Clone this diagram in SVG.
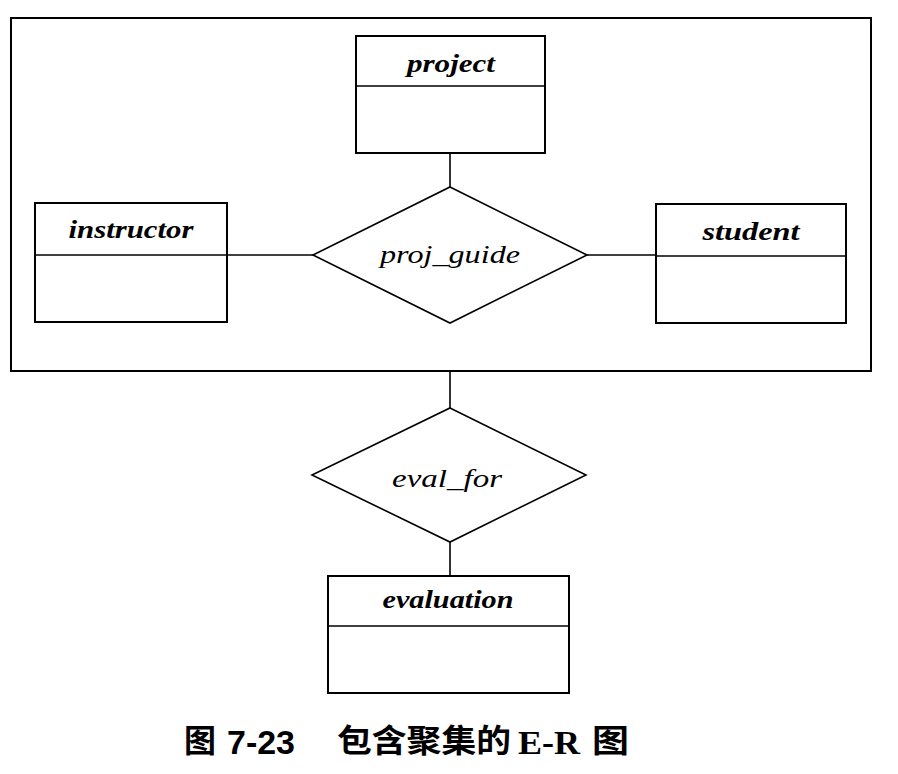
<svg xmlns="http://www.w3.org/2000/svg" width="898" height="774" viewBox="0 0 898 774">
<style>
.box{fill:none;stroke:#000;stroke-width:2}
.ent{fill:#fff;stroke:#000;stroke-width:2}
.rel{fill:#fff;stroke:#000;stroke-width:1.6}
.ln{stroke:#000;stroke-width:1.6;fill:none}
.et{font-family:"Liberation Serif",serif;font-style:italic;font-weight:bold;font-size:25px;text-anchor:middle;fill:#000}
.rt{font-family:"Liberation Serif",serif;font-style:italic;font-size:25px;text-anchor:middle;fill:#000}
.cap{font-family:"Liberation Serif","Noto Sans CJK SC",serif;font-weight:bold;font-size:32px;fill:#000}
.num{font-family:"Liberation Sans",sans-serif;font-weight:bold;font-size:34px;fill:#000}
</style>
<rect fill="#fff" x="0" y="0" width="898" height="774"/>
<g id="aggregation">
<rect class="box" x="11" y="18" width="860" height="353"/>
</g>
<g id="connectors">
<line class="ln" x1="450" y1="153" x2="450" y2="187"/>
<line class="ln" x1="227" y1="255" x2="313" y2="255"/>
<line class="ln" x1="587" y1="255" x2="656" y2="255"/>
<line class="ln" x1="450" y1="371" x2="450" y2="408"/>
<line class="ln" x1="450" y1="542" x2="450" y2="576"/>
</g>
<g id="project">
<rect class="ent" x="356" y="36" width="189" height="117"/>
<line class="ln" x1="356" y1="86" x2="545" y2="86" stroke-width="2"/>
<text class="et" x="451" y="72" textLength="88" lengthAdjust="spacingAndGlyphs">project</text>
</g>
<g id="instructor">
<rect class="ent" x="35" y="203" width="192" height="119"/>
<line class="ln" x1="35" y1="255" x2="227" y2="255" stroke-width="2"/>
<text class="et" x="131" y="238" textLength="125" lengthAdjust="spacingAndGlyphs">instructor</text>
</g>
<g id="student">
<rect class="ent" x="656" y="204" width="190" height="119"/>
<line class="ln" x1="656" y1="256" x2="846" y2="256" stroke-width="2"/>
<text class="et" x="751" y="240" textLength="97" lengthAdjust="spacingAndGlyphs">student</text>
</g>
<g id="proj_guide">
<polygon class="rel" points="450,187 587,255 450,323 313,255"/>
<text class="rt" x="450" y="263" textLength="140" lengthAdjust="spacingAndGlyphs">proj_guide</text>
</g>
<g id="eval_for">
<polygon class="rel" points="450,408 586,475 450,542 312,475"/>
<text class="rt" x="447" y="487" textLength="110" lengthAdjust="spacingAndGlyphs">eval_for</text>
</g>
<g id="evaluation">
<rect class="ent" x="328" y="576" width="241" height="117"/>
<line class="ln" x1="328" y1="626" x2="569" y2="626" stroke-width="2"/>
<text class="et" x="448" y="608" textLength="131" lengthAdjust="spacingAndGlyphs">evaluation</text>
</g>
<g id="caption">
<text class="cap" x="184" y="752" textLength="32" lengthAdjust="spacingAndGlyphs">图</text>
<text class="num" x="227" y="754" textLength="68" lengthAdjust="spacingAndGlyphs">7-23</text>
<text class="cap" x="337" y="752" textLength="174" lengthAdjust="spacingAndGlyphs">包含聚集的</text>
<text class="cap" x="518" y="754" textLength="62" lengthAdjust="spacingAndGlyphs" style="font-size:33px">E-R</text>
<text class="cap" x="592" y="752" textLength="37" lengthAdjust="spacingAndGlyphs">图</text>
</g>
</svg>
